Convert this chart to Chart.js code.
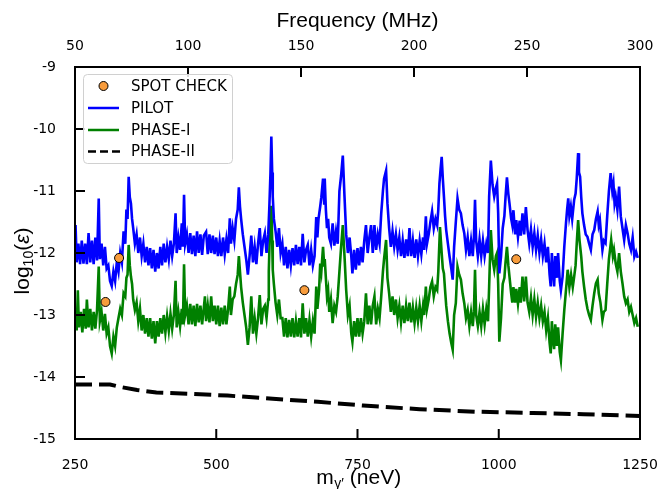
<!DOCTYPE html>
<html>
<head>
<meta charset="utf-8">
<script src="https://cdn.jsdelivr.net/npm/chart.js@4.4.1/dist/chart.umd.min.js"></script>
<style>
html,body{margin:0;padding:0;background:#fff;}
#wrap{width:663px;height:489px;}
</style>
</head>
<body>
<div id="wrap"><canvas id="c" width="663" height="489"></canvas></div>
<script>
// ---------- data (mass in neV, log10(epsilon)) ----------
const spotMass = [304, 328, 656, 1031];
const spotLog  = [-12.79, -12.08, -12.60, -12.10];

const phase2Data = [[250,-14.12],[312,-14.12],[330,-14.16],[360,-14.21],[394,-14.25],[450,-14.27],[520,-14.30],[600,-14.35],[680,-14.40],[760,-14.46],[860,-14.52],[960,-14.56],[1060,-14.58],[1150,-14.60],[1250,-14.63]];

const pilotData = [[251,-11.55],[253,-12.15],[256,-11.85],[259,-12.18],[262,-11.80],[265,-12.17],[268,-11.85],[271,-12.18],[274,-11.68],[277,-12.15],[280,-11.80],[283,-12.18],[286,-11.75],[289,-12.12],[292,-11.12],[294,-12.10],[297,-11.85],[300,-12.20],[303,-11.90],[306,-12.25],[309,-12.20],[312,-12.45],[315,-12.53],[318,-12.30],[321,-12.45],[324,-12.15],[327,-12.30],[330,-12.00],[333,-12.15],[336,-11.65],[339,-11.85],[341,-11.30],[343,-11.45],[345,-10.77],[347,-11.10],[349,-11.20],[351,-11.45],[353,-11.60],[356,-11.85],[359,-11.70],[362,-12.00],[365,-11.75],[368,-12.05],[371,-11.85],[374,-12.15],[377,-11.90],[380,-12.20],[383,-11.92],[386,-12.25],[389,-11.95],[392,-12.30],[395,-12.00],[398,-12.25],[401,-11.90],[404,-12.20],[407,-11.85],[410,-12.15],[413,-11.90],[416,-12.10],[419,-11.80],[422,-12.05],[425,-11.85],[428,-11.36],[430,-12.00],[433,-11.75],[436,-11.95],[439,-11.52],[441,-11.90],[443,-11.06],[445,-11.85],[448,-11.70],[451,-12.00],[454,-11.68],[457,-12.02],[460,-11.72],[463,-12.05],[466,-11.65],[469,-12.00],[472,-11.70],[475,-12.03],[478,-11.72],[482,-11.66],[485,-12.02],[488,-11.70],[491,-12.00],[494,-11.72],[497,-12.02],
[500,-11.75],[503,-12.05],[506,-11.80],[509,-12.05],[512,-11.75],[515,-12.02],[518,-11.78],[521,-12.00],[524,-11.44],[526,-11.85],[529,-11.60],[532,-11.80],[535,-11.45],[538,-11.30],[540,-10.94],[542,-11.25],[544,-11.45],[547,-11.70],[550,-11.90],[553,-12.10],[556,-12.35],[559,-12.05],[562,-11.72],[565,-12.15],[568,-11.90],[571,-12.18],[574,-11.85],[577,-11.60],[580,-12.05],[583,-11.80],[586,-11.68],[589,-12.00],[592,-11.70],[594,-11.25],[596,-10.70],[597.5,-10.12],[599,-10.70],[600,-11.09],[602,-11.45],[605,-11.65],[608,-11.90],[611,-11.60],[614,-12.00],[617,-11.85],[620,-12.20],[623,-11.90],[626,-12.25],[629,-11.95],[632,-12.20],[635,-11.92],[638,-12.20],[641,-11.87],[644,-12.18],[647,-11.90],[650,-12.20],[653,-11.69],[656,-12.15],[659,-11.95],[662,-11.87],[665,-12.20],[668,-11.95],[671,-12.20],[674,-12.05],[677,-11.42],[679,-11.75],[681,-11.45],[684,-11.25],[686,-11.10],[689,-10.80],[691,-11.20],[692,-10.80],[694,-11.30],[696,-11.60],[698,-11.45],[700,-11.75],[703,-11.85],[706,-11.52],[709,-11.88],[712,-11.65],[715,-11.85],[718,-11.00],[721,-10.75],[724,-10.43],[727,-11.09],[730,-11.70],[733,-12.00],[736,-11.75],[739,-12.05],[741,-12.33],[744,-11.95],[747,-12.27],[750,-11.92],[753,-12.20],[756,-11.90],[759,-12.15],[762,-11.80],[765,-11.55],[768,-12.00],[771,-11.75],[774,-11.55],[777,-12.00],[780,-11.55],[783,-11.95],[786,-11.70],[789,-11.85],[792,-11.36],[795,-11.00],[797,-10.80],[800.6,-10.67],[803,-11.20],[806,-11.60],[809,-11.90],[812,-11.65],[815,-11.90],[818,-11.70],[821,-11.95],[824,-11.75],[827,-12.05],[830,-11.80],[833,-12.08],[836,-11.78],[839,-12.05],[842,-11.60],[845,-12.05],[848,-11.80],[851,-12.08],[854,-11.78],[857,-12.05],[860,-11.80],[863,-12.02],[866,-11.75],[868,-11.95],[871,-11.41],[873,-11.85],[876,-11.70],[879,-11.50],[882,-11.33],[885,-11.60],[888,-11.45],[891,-11.55],[893,-11.30],[895,-10.88],[897,-10.65],[899,-10.45],[901,-10.80],[903,-11.09],[905,-11.40],[907,-11.63],[910,-11.85],[913,-12.06],[916,-12.25],[918.5,-12.43],[921,-11.90],[924,-11.50],[927,-11.12],[930,-11.30],[933,-11.36],[936,-11.55],[939,-11.68],[942,-11.95],[945,-11.75],[948,-12.05],[951,-11.80],[954,-12.05],[956,-11.75],[958,-11.14],[960,-11.80],[963,-12.05],[966,-11.78],[969,-12.05],[972,-11.80],[975,-12.05],[978,-11.85],[981,-12.00],[983,-11.09],[986,-10.51],[989,-10.90],[992,-11.09],[995,-10.95],[997,-10.88],[999,-11.36],[1001,-12.33],[1004,-12.06],[1007,-11.60],[1010,-11.40],[1012,-11.10],[1014.5,-10.78],[1017,-11.05],[1019,-11.20],[1022,-11.45],[1024,-11.55],[1026,-11.31],[1029,-11.70],[1031,-11.47],[1034,-11.74],[1037,-11.48],[1039,-11.72],[1042,-11.36],[1045,-11.70],[1048,-11.26],[1051,-11.63],[1054,-11.85],[1057,-11.62],[1060,-11.90],[1063,-11.68],[1066,-11.95],[1069,-11.72],[1072,-12.00],[1075,-11.78],[1078,-12.05],[1081,-11.85],[1084,-12.15],[1087,-11.90],[1090,-12.35],[1092,-12.54],[1094,-12.00],[1096,-12.30],[1098,-12.54],[1100,-12.05],[1103,-12.40],[1105,-12.00],[1108,-12.45],[1110,-12.60],[1113,-12.38],[1116,-11.90],[1119,-11.52],[1121,-11.30],[1123,-11.12],[1125,-11.40],[1127.6,-11.25],[1130,-11.45],[1133.5,-11.14],[1136,-11.04],[1138,-10.80],[1140.5,-10.39],[1142,-10.70],[1144,-10.77],[1146,-11.10],[1148,-11.36],[1151,-11.55],[1154,-11.70],[1157,-11.74],[1160,-11.85],[1163,-11.95],[1166,-11.70],[1169,-11.63],[1172,-11.45],[1175,-11.33],[1177,-11.55],[1179,-11.47],[1181,-11.70],[1183.5,-11.95],[1186,-11.80],[1189,-11.84],[1192,-11.40],[1195,-11.00],[1198,-10.71],[1201,-11.00],[1203,-10.88],[1205,-11.20],[1207,-11.09],[1210,-11.30],[1213,-10.93],[1216,-11.41],[1219,-11.60],[1222,-11.79],[1225,-11.55],[1228,-11.68],[1231,-11.85],[1234,-11.95],[1237,-11.75],[1240,-12.06],[1243,-11.98],[1246,-12.08]];

const phase1Data = [[251,-12.95],[253,-13.25],[255,-12.60],[257,-13.20],[260,-12.95],[263,-13.28],[266,-12.90],[269,-13.22],[271,-12.75],[274,-13.20],[277,-12.90],[280,-13.25],[283,-12.95],[286,-13.22],[289,-12.92],[292,-12.22],[294,-13.10],[297,-12.95],[300,-13.25],[303,-12.98],[306,-13.30],[309,-13.20],[312,-13.50],[315,-13.62],[318,-13.35],[321,-13.50],[324,-13.20],[327,-13.05],[330,-12.90],[333,-13.00],[336,-12.65],[339,-12.70],[341,-12.40],[343,-12.35],[345,-11.87],[347,-12.20],[349,-12.38],[351,-12.50],[353,-12.75],[356,-12.92],[359,-12.80],[362,-13.10],[365,-12.90],[368,-13.25],[371,-13.00],[374,-13.30],[377,-13.05],[380,-13.35],[383,-13.05],[386,-13.38],[389,-13.10],[392,-13.46],[395,-13.10],[398,-13.35],[401,-13.05],[404,-13.30],[407,-13.00],[410,-13.28],[413,-13.02],[416,-13.25],[419,-12.98],[422,-13.22],[425,-13.00],[428,-12.45],[430,-13.20],[433,-12.95],[436,-13.18],[439,-12.90],[441,-13.15],[443,-12.18],[445,-13.00],[448,-12.85],[451,-13.15],[454,-12.82],[457,-13.15],[460,-12.85],[463,-13.18],[466,-12.82],[469,-13.12],[472,-12.85],[475,-13.15],[478,-12.88],[480,-12.70],[482,-13.10],[485,-12.85],[488,-13.12],[491,-12.70],[494,-13.10],[497,-12.85],
[500,-13.15],[503,-12.85],[506,-13.18],[509,-12.88],[512,-13.15],[515,-12.85],[518,-13.15],[521,-12.90],[524,-12.54],[526,-13.00],[529,-12.75],[532,-12.70],[535,-12.50],[538,-12.35],[540,-12.05],[542,-12.30],[544,-12.55],[547,-12.80],[550,-13.00],[553,-13.20],[556,-13.48],[559,-13.20],[562,-12.70],[565,-13.30],[568,-13.05],[571,-13.30],[574,-13.05],[577,-12.68],[580,-13.15],[583,-12.90],[586,-12.85],[589,-13.05],[592,-12.75],[593,-12.30],[595,-11.63],[597.5,-11.24],[599,-11.80],[600,-12.27],[602,-12.50],[605,-12.80],[608,-13.00],[611,-12.75],[614,-13.05],[617,-13.05],[620,-13.35],[623,-13.05],[626,-13.36],[629,-13.08],[632,-13.35],[635,-13.05],[638,-13.36],[641,-13.10],[644,-13.35],[647,-13.05],[650,-13.36],[653,-12.81],[656,-13.30],[659,-13.05],[662,-13.35],[665,-13.08],[668,-13.35],[671,-13.10],[674,-13.30],[677,-12.54],[679,-12.90],[682,-12.60],[684,-12.17],[686,-12.30],[689,-11.90],[691,-12.20],[692,-12.10],[694,-12.40],[696,-12.70],[698,-12.60],[700,-12.95],[703,-12.75],[706,-13.13],[709,-12.85],[712,-12.95],[715,-12.70],[718,-12.30],[721,-11.90],[724,-11.55],[727,-12.05],[730,-12.60],[733,-13.00],[736,-12.85],[739,-13.30],[741,-13.43],[744,-13.10],[747,-13.35],[750,-13.05],[753,-13.35],[756,-13.05],[759,-13.30],[762,-13.10],[765,-12.65],[768,-13.15],[771,-12.85],[774,-13.15],[777,-12.85],[780,-12.70],[783,-13.15],[786,-12.90],[789,-13.05],[792,-12.70],[795,-12.30],[797,-12.10],[800.6,-11.79],[803,-12.40],[806,-12.65],[809,-12.95],[812,-12.70],[815,-13.00],[818,-12.75],[821,-13.05],[824,-12.85],[827,-13.12],[830,-12.85],[833,-13.13],[836,-12.85],[839,-13.10],[842,-12.80],[845,-13.12],[848,-12.88],[851,-13.13],[854,-12.88],[857,-13.10],[860,-12.85],[863,-13.10],[866,-12.85],[868,-13.00],[871,-12.54],[873,-12.90],[876,-12.75],[879,-12.55],[882,-12.46],[885,-12.70],[888,-12.55],[891,-12.60],[893,-12.30],[896,-11.58],[899,-12.00],[901,-12.25],[903,-12.33],[905,-12.60],[907,-12.85],[910,-13.10],[913,-13.30],[916,-13.45],[918.5,-13.56],[921,-13.00],[924,-12.81],[927,-12.22],[930,-12.35],[933,-12.43],[936,-12.65],[939,-12.81],[942,-13.05],[945,-12.92],[948,-13.18],[951,-12.95],[954,-13.18],[956,-12.95],[958,-12.27],[960,-13.00],[963,-13.18],[966,-12.95],[969,-13.18],[972,-12.90],[975,-13.15],[978,-12.90],[981,-13.10],[983,-12.54],[986,-11.63],[989,-12.10],[992,-12.27],[995,-12.05],[997,-12.00],[999,-12.50],[1001,-13.43],[1004,-13.05],[1007,-12.50],[1010,-12.40],[1012,-12.15],[1014.5,-11.90],[1017,-12.20],[1019,-12.38],[1022,-12.65],[1024,-12.80],[1026,-12.55],[1029,-12.80],[1031,-12.58],[1034,-12.82],[1037,-12.55],[1039,-12.80],[1042,-12.38],[1045,-12.78],[1048,-12.38],[1051,-12.80],[1054,-12.95],[1057,-12.72],[1060,-13.00],[1063,-12.75],[1066,-13.03],[1069,-12.80],[1072,-13.05],[1075,-12.85],[1078,-13.10],[1081,-12.95],[1084,-13.25],[1087,-13.05],[1090,-13.45],[1092,-13.62],[1094,-13.10],[1096,-13.40],[1098,-13.55],[1100,-13.15],[1103,-13.50],[1105,-13.20],[1108,-13.60],[1110,-13.73],[1113,-13.30],[1116,-12.92],[1119,-12.60],[1122,-12.27],[1125,-12.55],[1128,-12.35],[1131,-12.55],[1133.5,-12.38],[1136,-12.20],[1138,-11.85],[1140.5,-11.47],[1143,-11.80],[1146,-12.06],[1148,-12.30],[1151,-12.54],[1154,-12.75],[1157,-12.90],[1160,-13.00],[1163,-13.08],[1166,-12.85],[1169,-12.65],[1172,-12.49],[1175,-12.43],[1177,-12.65],[1180,-12.80],[1183.5,-13.08],[1186,-12.95],[1189,-12.92],[1192,-12.50],[1195,-12.10],[1199,-11.79],[1202,-12.05],[1204,-11.95],[1207,-12.17],[1210,-12.30],[1213,-12.00],[1216,-12.30],[1219,-12.49],[1222,-12.70],[1225,-12.81],[1228,-12.75],[1231,-12.95],[1234,-12.87],[1237,-13.00],[1240,-13.13],[1243,-13.05],[1246,-13.19]];

const massTicks = [250, 500, 750, 1000, 1250];
const freqTicks = [50, 100, 150, 200, 250, 300];
const logTicks  = [-15, -14, -13, -12, -11, -10, -9];
const legendLabels = ['SPOT CHECK', 'PILOT', 'PHASE-I', 'PHASE-II'];

const ORANGE = '#f89c3c', BLUE = '#0000ff', GREEN = '#008000';
const toXY = arr => arr.map(p => ({x: p[0], y: p[1]}));

// ---------- plugin: frame, inward ticks, titles, legend ----------
const decor = {
  id: 'decor',
  afterDraw(chart) {
    const {ctx, chartArea: ca, scales} = chart;
    ctx.save();
    ctx.strokeStyle = '#000';
    ctx.lineWidth = 2;
    const TL = 10;
    ctx.beginPath();
    massTicks.forEach(v => { const p = scales.x.getPixelForValue(v); ctx.moveTo(p, ca.bottom); ctx.lineTo(p, ca.bottom - TL); });
    freqTicks.forEach(v => { const p = scales.x2.getPixelForValue(v); ctx.moveTo(p, ca.top); ctx.lineTo(p, ca.top + TL); });
    logTicks.forEach(v => { const p = scales.y.getPixelForValue(v); ctx.moveTo(ca.left, p); ctx.lineTo(ca.left + TL, p); });
    ctx.stroke();
    ctx.strokeRect(ca.left, ca.top, ca.right - ca.left, ca.bottom - ca.top);

    // titles
    ctx.fillStyle = '#000';
    ctx.textBaseline = 'alphabetic';
    const TF = 'Liberation Sans, Arial, sans-serif';
    const cx = (ca.left + ca.right) / 2;
    ctx.font = '21px ' + TF;
    ctx.textAlign = 'center';
    ctx.fillText('Frequency (MHz)', cx, 27);

    // x title: m_{γ'} (neV)
    ctx.textAlign = 'left';
    const big = '21px ' + TF, small = '14px ' + TF;
    ctx.font = big; const w1 = ctx.measureText('m').width;
    ctx.font = small; const w2 = ctx.measureText('γ′').width;
    ctx.font = big; const w3 = ctx.measureText(' (neV)').width;
    let x0 = cx - (w1 + w2 + w3) / 2 + 1;
    const by = 484;
    ctx.font = big; ctx.fillText('m', x0, by);
    ctx.font = small; ctx.fillText('γ′', x0 + w1 + 0.5, by + 4);
    ctx.font = big; ctx.fillText(' (neV)', x0 + w1 + w2 + 0.5, by);

    // y title: log_{10}(ε), rotated
    ctx.save();
    ctx.translate(29, 261);
    ctx.rotate(-Math.PI / 2);
    const ital = 'italic 21px ' + TF;
    ctx.font = big; const a1 = ctx.measureText('log').width;
    ctx.font = small; const a2 = ctx.measureText('10').width;
    ctx.font = big; const a3 = ctx.measureText('(').width;
    ctx.font = ital; const a4 = ctx.measureText('ε').width;
    ctx.font = big; const a5 = ctx.measureText(')').width;
    let s = -(a1 + a2 + a3 + a4 + a5) / 2;
    ctx.font = big; ctx.fillText('log', s, 0); s += a1;
    ctx.font = small; ctx.fillText('10', s, 4); s += a2;
    ctx.font = big; ctx.fillText('(', s, 0); s += a3;
    ctx.font = ital; ctx.fillText('ε', s, 0); s += a4;
    ctx.font = big; ctx.fillText(')', s, 0);
    ctx.restore();

    // legend
    const bx = 83, byy = 74, bw = 149, bh = 89;
    ctx.beginPath();
    ctx.roundRect(bx + 0.5, byy + 0.5, bw, bh, 4);
    ctx.fillStyle = 'rgba(255,255,255,0.85)';
    ctx.fill();
    ctx.strokeStyle = '#d0d0d0';
    ctx.lineWidth = 1;
    ctx.stroke();
    const rows = [86, 108, 130, 151.5];
    const sx0 = 88, sx1 = 119, tx = 131;
    ctx.font = '15px DejaVu Sans';
    ctx.textBaseline = 'middle';
    ctx.textAlign = 'left';
    ctx.fillStyle = '#000';
    legendLabels.forEach((t, i) => ctx.fillText(t, tx, rows[i] + 1));
    ctx.beginPath();
    ctx.arc((sx0 + sx1) / 2, rows[0], 4.5, 0, Math.PI * 2);
    ctx.fillStyle = ORANGE; ctx.fill();
    ctx.strokeStyle = '#000'; ctx.lineWidth = 1; ctx.stroke();
    ctx.lineWidth = 2.5;
    ctx.strokeStyle = BLUE;
    ctx.beginPath(); ctx.moveTo(sx0, rows[1]); ctx.lineTo(sx1, rows[1]); ctx.stroke();
    ctx.strokeStyle = GREEN;
    ctx.beginPath(); ctx.moveTo(sx0, rows[2]); ctx.lineTo(sx1, rows[2]); ctx.stroke();
    ctx.strokeStyle = '#000';
    ctx.setLineDash([8, 4]);
    ctx.beginPath(); ctx.moveTo(sx0, rows[3]); ctx.lineTo(sx1 + 1, rows[3]); ctx.stroke();
    ctx.setLineDash([]);
    ctx.restore();
  }
};

const tickFont = {family: 'DejaVu Sans', size: 14};
const plain = v => String(v);
const noSidePad = s => { s.paddingLeft = 0; s.paddingRight = 0; };

new Chart(document.getElementById('c'), {
  type: 'line',
  data: {
    datasets: [
      {label: 'SPOT CHECK', data: spotMass.map((m, i) => ({x: m, y: spotLog[i]})), showLine: false,
       pointRadius: 4.5, pointBackgroundColor: ORANGE, pointBorderColor: '#000', pointBorderWidth: 1, order: 0},
      {label: 'PILOT', data: toXY(pilotData), borderColor: BLUE, borderWidth: 2.6, pointRadius: 0, tension: 0, order: 2},
      {label: 'PHASE-I', data: toXY(phase1Data), borderColor: GREEN, borderWidth: 2.6, pointRadius: 0, tension: 0, order: 3},
      {label: 'PHASE-II', data: toXY(phase2Data), borderColor: '#000', borderWidth: 4, borderDash: [17, 7], pointRadius: 0, tension: 0, order: 4}
    ]
  },
  options: {
    responsive: false,
    animation: false,
    devicePixelRatio: 1,
    layout: {padding: {left: 0, right: 23, top: 0, bottom: 0}},
    plugins: {legend: {display: false}, tooltip: {enabled: false}},
    scales: {
      x: {
        type: 'linear', position: 'bottom', min: 250, max: 1250,
        afterBuildTicks: s => { s.ticks = massTicks.map(v => ({value: v})); },
        ticks: {color: '#000', font: tickFont, padding: 18, maxRotation: 0, autoSkip: false, callback: plain},
        grid: {display: false, drawTicks: false}, border: {display: false},
        afterFit: s => { s.height = 50; noSidePad(s); }
      },
      x2: {
        type: 'linear', position: 'top', min: 50, max: 300,
        afterBuildTicks: s => { s.ticks = freqTicks.map(v => ({value: v})); },
        ticks: {color: '#000', font: tickFont, padding: 12, maxRotation: 0, autoSkip: false, callback: plain},
        grid: {display: false, drawTicks: false}, border: {display: false},
        afterFit: s => { s.height = 67; noSidePad(s); }
      },
      y: {
        type: 'linear', position: 'left', min: -15, max: -9,
        afterBuildTicks: s => { s.ticks = logTicks.map(v => ({value: v})); },
        ticks: {color: '#000', font: tickFont, padding: 19, autoSkip: false, callback: plain},
        grid: {display: false, drawTicks: false}, border: {display: false},
        afterFit: s => { s.width = 75; s.paddingTop = 0; s.paddingBottom = 0; }
      }
    }
  },
  plugins: [decor]
});
</script>
</body>
</html>
